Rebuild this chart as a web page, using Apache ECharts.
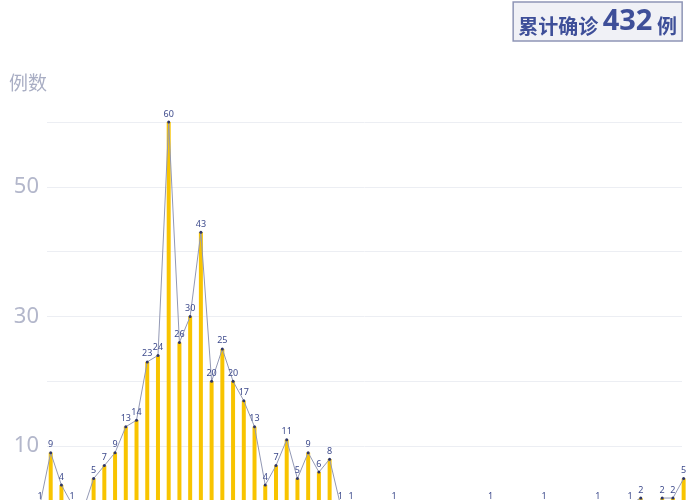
<!DOCTYPE html>
<html>
<head>
<meta charset="utf-8">
<script src="https://cdn.jsdelivr.net/npm/echarts@6/dist/echarts.min.js"></script>
<style>html,body{margin:0;padding:0;background:#fff;overflow:hidden}#c{width:700px;height:520px}</style>
</head>
<body>
<div id="c"></div>
<script>
var days = [];
for (var d = 1; d <= 61; d++) { days.push('D' + d); }
var cases = [1, 9, 4, 1, 0, 5, 7, 9, 13, 14, 23, 24, 60, 26, 30, 43, 20, 25, 20, 17,
  13, 4, 7, 11, 5, 9, 6, 8, 1, 1, 0, 0, 0, 1, 0, 0, 0, 0, 0, 0,
  0, 0, 1, 0, 0, 0, 0, 1, 0, 0, 0, 0, 1, 0, 0, 1, 2, 0, 2, 2, 5];
var totalText = '432';
var yTicks = [10, 30, 50];

var chart = echarts.init(document.getElementById('c'));
chart.setOption({
  animation: false,
  title: {
    text: '{a|累计确诊 }{b|' + totalText + '}{a| 例}',
    right: 18, top: 1,
    backgroundColor: '#f0f1f6',
    borderColor: '#8e95b6',
    borderWidth: 1.5,
    padding: [5, 5, 5, 5],
    textStyle: {
      rich: {
        a: { fontSize: 20, fontWeight: 'bold', color: '#3e4f99', fontFamily: 'Noto Sans CJK SC', verticalAlign: 'bottom', lineHeight: 30 },
        b: { fontSize: 29, color: '#3e4f99', fontFamily: 'Noto Sans', verticalAlign: 'bottom', lineHeight: 30 }
      }
    }
  },
  graphic: [{
    type: 'text', left: 9, top: 73,
    style: { text: '例数', fontSize: 19, fill: '#a9aec4', fontFamily: 'Noto Sans CJK SC' }
  }],
  grid: [
    { left: 47, right: 18, top: 122, height: 389 },
    { left: 34.6, right: 11, top: 122, height: 389 }
  ],
  xAxis: [
    { type: 'category', gridIndex: 0, data: days, show: false },
    { type: 'category', gridIndex: 1, data: days, axisLine: { show: false }, axisTick: { show: false }, axisLabel: { show: false } }
  ],
  yAxis: [
    {
      type: 'value', gridIndex: 0, min: 0, max: 60, interval: 10,
      axisLine: { show: false }, axisTick: { show: false },
      splitLine: { lineStyle: { color: '#eceef3', width: 1 } },
      axisLabel: {
        margin: 8, fontSize: 22, color: '#b3b7cb', fontFamily: 'Noto Sans',
        formatter: function (v) { return yTicks.indexOf(v) >= 0 ? String(v) : ''; }
      }
    },
    { type: 'value', gridIndex: 1, min: 0, max: 60, show: false }
  ],
  series: [
    {
      type: 'bar', xAxisIndex: 1, yAxisIndex: 1, data: cases, barWidth: 4,
      itemStyle: { color: '#f8c400' }, silent: true
    },
    {
      type: 'line', xAxisIndex: 1, yAxisIndex: 1, data: cases,
      symbol: 'circle', symbolSize: 3,
      lineStyle: { color: '#9298b4', width: 1 },
      itemStyle: { color: '#2f3666' },
      label: {
        show: true, position: 'top', distance: 2, fontSize: 9, color: '#3d4a8c',
        fontFamily: 'Noto Sans',
        formatter: function (p) { return p.value ? String(p.value) : ''; }
      }
    }
  ]
});
</script>
</body>
</html>
